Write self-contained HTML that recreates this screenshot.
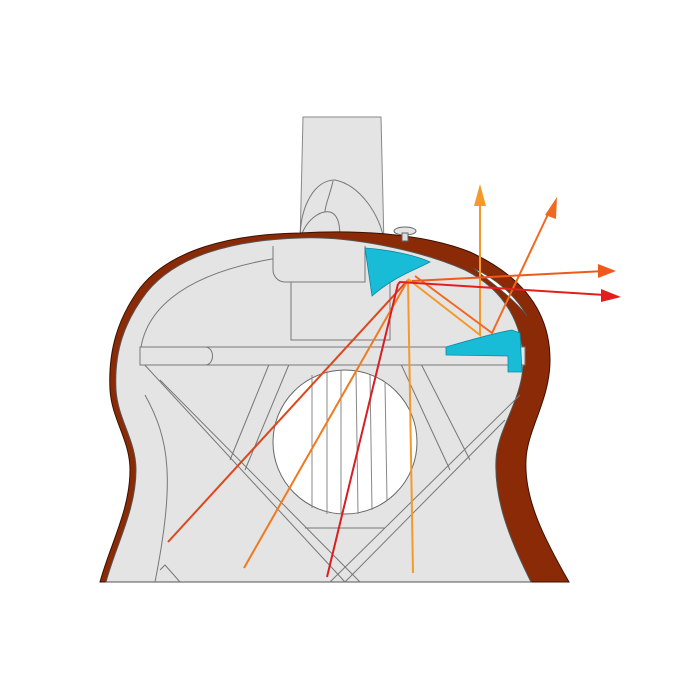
<!DOCTYPE html>
<html><head><style>html,body{margin:0;padding:0;background:#fff}svg{display:block}</style></head>
<body>
<svg width="700" height="700" viewBox="0 0 700 700" xmlns="http://www.w3.org/2000/svg">
<rect width="700" height="700" fill="#fff"/>
<!-- neck -->
<path d="M303,117 L381,117 L384,245 L300,245 Z" fill="#e4e4e4" stroke="#888" stroke-width="1"/>
<path d="M300,240 C300,205 315,180 335,180 C360,185 380,215 384,240" fill="none" stroke="#777" stroke-width="1"/>
<path d="M300,240 C305,220 320,210 330,212 C340,215 340,230 340,240" fill="none" stroke="#777" stroke-width="1"/>
<path d="M333,181 C330,195 325,205 325,212" fill="none" stroke="#777" stroke-width="1"/>
<!-- outer body (brown) -->
<path d="M300,233 C230,234 170,250 140,288 C118,318 108,350 110,390 C112,420 130,440 130,470 C130,510 110,545 100,582 L569,582 C545,540 524,500 526,460 C527,430 550,400 550,360 C550,310 520,275 470,252 C420,232 350,230 300,233 Z" fill="#8b2a06" stroke="#3a1000" stroke-width="1"/>
<!-- inner body -->
<path d="M300,238 C232,240 176,256 147,292 C124,322 114,352 116,390 C118,420 136,440 136,470 C136,510 116,545 106,582 L531,582 C510,540 494,500 496,460 C497,430 522,400 523,365 C524,325 505,290 465,270 C420,250 350,236 300,238 Z" fill="#e4e4e4" stroke="#555" stroke-width="1"/>
<!-- slot in side -->
<path d="M473,268 C495,278 515,295 527,316 C515,300 495,285 473,268 Z" fill="#fff" stroke="#555" stroke-width="0.8"/>
<!-- inner outline -->
<path d="M140,360 C140,320 170,270 300,255" fill="none" stroke="#777" stroke-width="1"/>
<!-- neck block -->
<path d="M273,246 L273,270 C273,276 278,282 285,282 L365,282 L365,246" fill="#e4e4e4" stroke="#777" stroke-width="1"/>
<path d="M291,282 L291,340 L390,340 L390,282" fill="none" stroke="#777" stroke-width="1"/>
<!-- diagonal braces -->
<g stroke="#777" stroke-width="1" fill="none">
<path d="M142,362 L345,582"/><path d="M160,380 L360,582" />
<path d="M145,395 C170,440 175,480 155,582"/>
<path d="M520,395 L330,582"/><path d="M505,420 L345,582"/>
<path d="M270,362 L230,460"/><path d="M290,362 L245,470"/>
<path d="M400,362 L450,470"/><path d="M420,362 L470,460"/>
<path d="M305,528 L385,528"/>
<path d="M160,570 L165,565 L180,582"/>
</g>
<!-- horizontal brace -->
<path d="M140,347 L525,347 L525,365 L140,365 Z" fill="#e4e4e4" stroke="#777" stroke-width="1"/>
<path d="M140,347 L205,347 C215,347 215,365 205,365" fill="none" stroke="#777" stroke-width="1"/>
<!-- sound hole -->
<circle cx="345" cy="442" r="72" fill="#fff" stroke="#666" stroke-width="1"/>
<g stroke="#888" stroke-width="1">
<line x1="312" y1="375" x2="312" y2="508"/><line x1="327" y1="371" x2="327" y2="514"/>
<line x1="341" y1="370" x2="341" y2="514"/><line x1="356" y1="371" x2="358" y2="514"/>
<line x1="370" y1="375" x2="372" y2="510"/><line x1="385" y1="383" x2="387" y2="500"/>
</g>
<!-- end pin -->
<ellipse cx="405" cy="231" rx="11" ry="4" fill="#e4e4e4" stroke="#666"/>
<rect x="402" y="233" width="6" height="8" fill="#ddd" stroke="#666"/>
<!-- blue pieces -->
<path d="M365,248 C390,250 415,255 430,262 C415,270 395,276 372,296 Z" fill="#19bcd6" stroke="#0a8aa0" stroke-width="0.8"/>
<path d="M446,347 C470,340 495,333 512,330 L520,333 L522,372 L508,372 L508,356 L446,355 Z" fill="#19bcd6" stroke="#0a8aa0" stroke-width="0.8"/>
<!-- rays -->
<g fill="none" stroke-width="2">
<path d="M408,280 L168,542" stroke="#e0461c"/>
<path d="M408,280 L244,568" stroke="#ef7a1f"/>
<path d="M398,284 L327,577" stroke="#d81e22"/>
<path d="M408,280 L413,573" stroke="#f39a2a"/>
<path d="M408,279 L480,335 L480,195" stroke="#f39a2a"/>
<path d="M415,276 L492,333 L550,210" stroke="#ef6a20"/>
<path d="M412,281 L605,271" stroke="#ef5a1c"/>
<path d="M398,284 L400,282 L605,295" stroke="#e31e1e"/>
</g>
<g>
<path d="M480,184 L474,206 L486,206 Z" fill="#f39a2a"/>
<path d="M557,197 L545,215 L556,219 Z" fill="#ef6a20"/>
<path d="M616,271 L598,264 L598,278 Z" fill="#ef5a1c"/>
<path d="M621,297 L601,289 L601,302 Z" fill="#e31e1e"/>
</g>
</svg>
</body></html>
